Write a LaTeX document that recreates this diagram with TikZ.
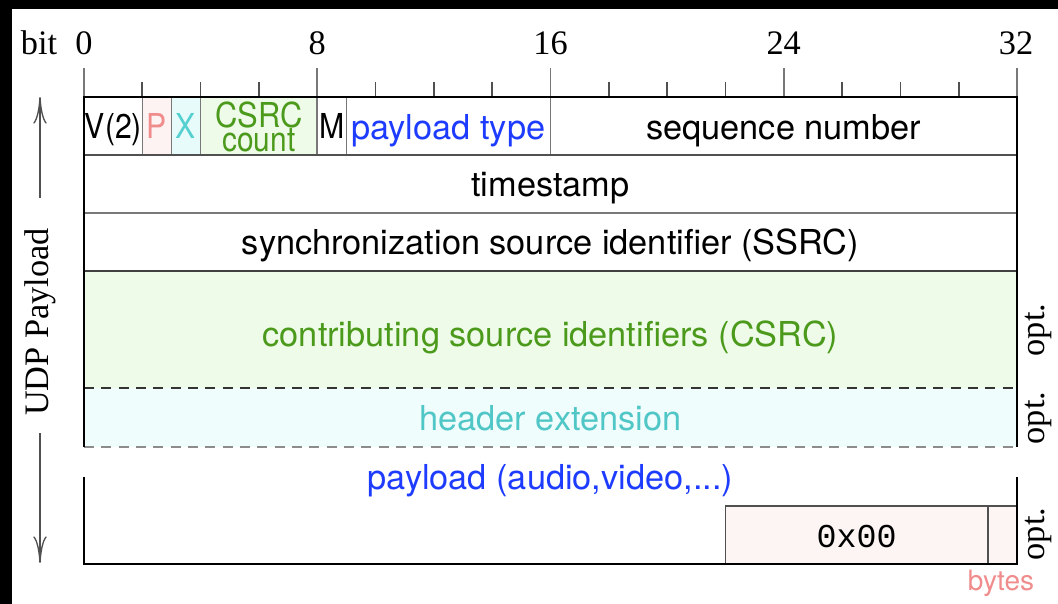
\documentclass[tikz,border=0pt]{standalone}
\usepackage{fontspec}
\setmainfont{Liberation Serif}
\setsansfont{TeX Gyre Heros}
\setmonofont{Liberation Mono}
\usetikzlibrary{arrows.meta}

\definecolor{ptext}{RGB}{240,140,140}
\definecolor{pfill}{RGB}{253,243,243}
\definecolor{xtext}{RGB}{85,208,208}
\definecolor{xfill}{RGB}{232,251,251}
\definecolor{gtext}{RGB}{76,154,28}
\definecolor{gfill}{RGB}{238,251,232}
\definecolor{btext}{RGB}{30,60,255}
\definecolor{hfill}{RGB}{239,253,253}
\definecolor{zfill}{RGB}{252,245,244}
\definecolor{sepgray}{RGB}{120,120,120}
\definecolor{darkrule}{RGB}{80,80,80}

% narrow field labels are squeezed horizontally to fit their bits
\newcommand{\narrow}[2][0.88]{\scalebox{#1}[1]{#2}}

\begin{document}
\begin{tikzpicture}[x=0.3pt,y=-0.3pt,
  sans/.style={font=\sffamily\fontsize{10.3}{12}\selectfont, inner sep=0pt, anchor=base},
  serif/.style={font=\rmfamily\fontsize{10.3}{12}\selectfont, inner sep=0pt},
  border/.style={line width=0.8pt, black},
  sep/.style={line width=0.45pt, sepgray},
  hrule/.style={line width=0.5pt, darkrule},
  tick/.style={line width=0.5pt, darkrule},
  longtick/.style={line width=0.5pt, sepgray},
  dashrule/.style={line width=0.55pt, dash pattern=on 3pt off 2.2pt},
  udparrow/.style={line width=0.4pt, darkrule, -{To[length=8pt,width=4pt]}}]

% page with a black edge on top and left
\fill[black] (0,0) rectangle (1058,604);
\fill[white] (12,9) rectangle (1058,604);
\useasboundingbox (0,0) rectangle (1058,604);

% coloured field backgrounds
\fill[pfill] (142.3,97) rectangle (171.5,155);
\fill[xfill] (171.5,97) rectangle (200.6,155);
\fill[gfill] (200.6,97) rectangle (317.2,155);
\fill[gfill] (84,271) rectangle (1017,388);
\fill[hfill] (84,388) rectangle (1017,447);
\fill[zfill] (725.4,506) rectangle (1017,564);

% bit ruler
\foreach \b in {2,4,6,10,12,14,18,20,22,26,28,30}
  \draw[tick] ({84+29.156*\b},82) -- ({84+29.156*\b},97);
\foreach \b in {0,8,16,24,32}
  \draw[longtick] ({84+29.156*\b},68) -- ({84+29.156*\b},97);
\node[serif] (bitlbl) at (39,43) {bit};
\node[serif] (b0) at (84,43) {0};
\node[serif] (b8) at (317.2,43) {8};
\node[serif] (b16) at (550.5,43) {16};
\node[serif] (b24) at (783.7,43) {24};
\node[serif] (b32) at (1016,43) {32};

% separators of the first word
\foreach \x in {142.3,171.5,200.6,317.2,346.4,550.5}
  \draw[sep] (\x,97) -- (\x,155);

% horizontal rules
\draw[hrule] (84,155) -- (1017,155);
\draw[sep] (84,213) -- (1017,213);
\draw[hrule, darkrule!80!black] (84,271) -- (1017,271);
\draw[dashrule, black!80] (84,388) -- (1017,388);
\draw[dashrule, black!45] (84,447) -- (1017,447);

% header frame
\draw[border] (84,447) -- (84,97) -- (1017,97) -- (1017,447);

% payload frame and padding
\draw[sep, darkrule] (725.4,564) -- (725.4,506) -- (1017,506);
\draw[sep, darkrule] (987.8,506) -- (987.8,564);
\draw[border] (84,477) -- (84,564) -- (1017,564) -- (1017,477);

% field labels
\node[sans] (vfld) at (113.5,139) {\narrow{V(2)}};
\node[sans, text=ptext] (pfld) at (157,139) {\narrow{P}};
\node[sans, text=xtext] (xfld) at (186,139) {\narrow{X}};
\node[font=\sffamily\fontsize{10.3}{7.2}\selectfont, inner sep=0pt, align=center,
      text=gtext] (cc) at (258.9,127) {\narrow[0.9]{CSRC}\\\narrow[0.87]{count}};
\node[sans] (mfld) at (332,139) {\narrow{M}};
\node[sans, text=btext] (ptype) at (448.4,139.5) {payload type};
\node[sans] (seq) at (783.7,139.5) {sequence number};
\node[sans] (ts) at (550.5,196.5) {timestamp};
\node[sans] (ssrc) at (550.5,255) {synchronization source identifier (SSRC)};
\node[sans, text=gtext] (csrc) at (550.5,347) {contributing source identifiers (CSRC)};
\node[sans, text=xtext!95!black] (hext) at (550.5,431) {header extension};
\node[sans, text=btext] (pay) at (550.5,490) {payload (audio,video,...)};
\node[font=\ttfamily\fontsize{10}{12}\selectfont, inner sep=0pt, anchor=base] (pad) at (856.6,548) {0x00};
\node[font=\sffamily\fontsize{8.4}{10}\selectfont, inner sep=0pt, text=ptext] (bytes) at (1001,583) {bytes};

% optional parts
\node[serif, rotate=90] (opt1) at (1038,330) {opt.};
\node[serif, rotate=90] (opt2) at (1038,418) {opt.};
\node[serif, rotate=90] (opt3) at (1038,534) {opt.};

% UDP payload extent
\node[serif, rotate=90] (udp) at (40,322) {UDP Payload};
\coordinate (utop) at (40,97);
\coordinate (ubot) at (40,563);
\coordinate (ua) at (40,198);
\coordinate (ub) at (40,433);
\draw[udparrow] (ua) -- (utop);
\draw[udparrow] (ub) -- (ubot);
\end{tikzpicture}
\end{document}
